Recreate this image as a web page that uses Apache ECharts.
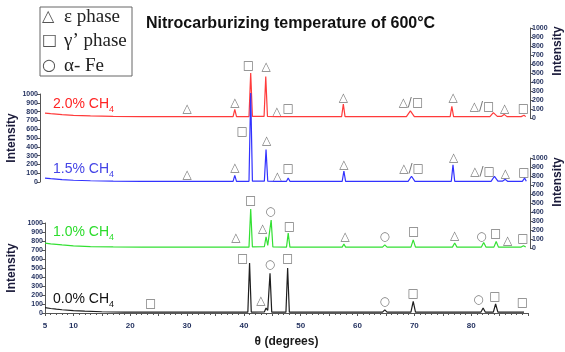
<!DOCTYPE html>
<html lang="en">
<head>
<meta charset="utf-8">
<title>Nitrocarburizing 600C</title>
<script src="https://cdn.jsdelivr.net/npm/echarts@6/dist/echarts.min.js"></script>
<style>
  html, body { margin: 0; padding: 0; background: #fff; }
  #chart { width: 565px; height: 352px; }
</style>
</head>
<body>
<div id="chart"></div>
<script>
// [theta, intensity] (each pattern has its own 0-1000 axis)
var ch20 = [[5,55],[6,48],[8,38],[10,30],[13,24],[17,19],[22,16],
  [29.7,15],[30,25],[30.3,15],[38.1,16],[38.4,95],[38.7,16],
  [40.9,16],[41.2,500],[41.5,17],[43.55,17],[43.85,460],[44.15,17],
  [45.7,15],[45.9,20],[46.1,15],[47.5,15],[47.8,35],[48.1,15],
  [57.2,15],[57.5,155],[57.8,15],[68.6,15],[69.3,80],[70.0,15],
  [76.3,15],[76.6,130],[76.9,15],[83.3,15],[83.9,60],[84.6,18],[85.3,17],[85.8,40],[86.3,15],
  [88.8,15],[89.3,30],[89.6,15]];
var ch15 = [[5,45],[6,38],[8,28],[10,20],[13,14],[17,10],[22,8],
  [29.7,8],[30,18],[30.3,8],[38.1,8],[38.4,75],[38.7,8],
  [40.9,8],[41.2,1010],[41.5,9],[43.6,9],[43.9,370],[44.2,9],
  [45.7,8],[45.9,14],[46.1,8],[47.5,8],[47.8,45],[48.1,8],
  [57.3,8],[57.6,125],[57.9,8],[68.9,8],[69.5,65],[70.1,8],
  [76.5,8],[76.8,195],[77.1,8],[83.5,8],[84.1,65],[84.7,10],[85.5,9],[86,30],[86.4,8],
  [89,8],[89.4,45],[89.7,8]];
var ch10 = [[5,55],[6,46],[8,34],[10,24],[13,16],[17,12],[22,10],
  [38.2,10],[38.5,25],[38.8,10],[40.9,10],[41.2,433],[41.5,12],
  [43.6,14],[43.9,125],[44.2,30],[44.5,20],[44.8,310],[45.1,12],
  [47.5,10],[47.8,165],[48.1,10],[57.3,10],[57.6,45],[57.9,10],
  [64.4,10],[64.8,35],[65.2,10],[69.4,10],[69.8,90],[70.2,10],
  [76.7,10],[77.1,55],[77.5,10],[81.8,10],[82.2,62],[82.6,10],
  [84.0,10],[84.4,73],[84.8,10],[86.0,10],[86.3,20],[86.6,10],
  [88.8,10],[89.2,25],[89.6,10]];
var ch00 = [[5,60],[6,50],[7,42],[8,36],[10,27],[12,20],[15,14],[19,10],
  [23.3,9],[23.6,20],[23.9,9],[40.7,9],[41.0,555],[41.3,10],
  [43.6,12],[43.9,55],[44.2,30],[44.35,25],[44.6,440],[44.9,10],
  [47.4,9],[47.7,500],[48.0,9],[57.3,9],[57.6,18],[57.9,9],
  [64.4,9],[64.8,35],[65.2,9],[69.4,9],[69.8,130],[70.2,9],
  [81.7,9],[82.1,55],[82.5,9],[83.9,9],[84.3,100],[84.7,9],
  [88.7,9],[89.0,20],[89.3,9]];

// phase marks: [theta, intensity, glyph]
var mk20 = [[30,100,'△'],[38.4,170,'△'],[40.8,580,'□'],[43.9,563,'△'],[45.8,70,'△'],[47.8,97,'□'],
  [57.5,225,'△'],[69.4,163,'△/□'],[76.8,219,'△'],[81.9,119,'△/□'],[85.9,100,'△'],[89.2,100,'□']];
var mk15 = [[30,80,'△'],[38.4,155,'△'],[39.7,572,'□'],[44,470,'△'],[45.9,60,'△'],[47.8,144,'□'],
  [57.6,193,'△'],[69.5,148,'△/□'],[76.9,270,'△'],[82,117,'△/□'],[86,90,'△'],[89.3,105,'□']];
var mk10 = [[38.6,108,'△'],[41.2,522,'□'],[43.3,208,'△'],[44.7,397,'○'],[48,230,'□'],[57.8,126,'△'],
  [64.8,119,'○'],[69.9,181,'□'],[77.1,133,'△'],[81.8,126,'○'],[84.3,155,'□'],[86.4,81,'△'],[89.1,100,'□']];
var mk00 = [[23.6,100,'□'],[39.8,600,'□'],[43,140,'△'],[44.6,533,'○'],[47.7,600,'□'],
  [64.8,126,'○'],[69.8,211,'□'],[81.3,144,'○'],[84.2,181,'□'],[89,115,'□']];

var names = ['2.0% CH', '1.5% CH', '1.0% CH', '0.0% CH'];
var xLabels = [5, 10, 20, 30, 40, 50, 60, 70, 80];

var patterns = [ch20, ch15, ch10, ch00];
var marks = [mk20, mk15, mk10, mk00];
var colors = ['#ff3b3b', '#3232ff', '#33e033', '#1e1e1e'];
var textColors = ['#ff2424', '#4444e6', '#2cdc2c', '#111'];

// one grid per pattern, same theta scale
var grids = [
  {left: 45, right: 37, top: 28, height: 90, outerBoundsMode: 'none'},
  {left: 45, right: 37, top: 94, height: 88, outerBoundsMode: 'none'},
  {left: 45, right: 37, top: 158, height: 90, outerBoundsMode: 'none'},
  {left: 45, right: 37, top: 223, height: 90, outerBoundsMode: 'none'}
];
var axisSide = [['right', 2], ['left', 5], ['right', 2], ['left', 0]];
var labelY = [105, 170, 233, 300];

function yAx(i) {
  var ax = {
    type: 'value', gridIndex: i, position: axisSide[i][0], offset: axisSide[i][1],
    min: 0, max: 1000, interval: 100,
    axisLine: {show: true, lineStyle: {color: '#555', width: 1}},
    axisTick: {show: true, length: 3, lineStyle: {color: '#555'}},
    axisLabel: {fontSize: 7, fontWeight: 'bold', color: '#1f2d5c', margin: 2,
      formatter: function (v) { return String(v); }},
    splitLine: {show: false}
  };
  if (axisSide[i][0] == 'left') {
    ax.name = 'Intensity';
    ax.nameLocation = 'middle';
    ax.nameRotate = 90;
    ax.nameMoveOverlap = false;
    ax.nameGap = i == 1 ? 22 : 27;
    ax.nameTextStyle = {fontSize: 12, fontWeight: 'bold', color: '#1a1a3a'};
  }
  return ax;
}

function xAx(i) {
  var ax = {type: 'value', gridIndex: i, min: 5, max: 90, show: false};
  if (i == 3) {
    ax = {
      type: 'value', gridIndex: 3, min: 5, max: 90, interval: 5,
      name: 'θ (degrees)', nameLocation: 'middle', nameGap: 23, nameMoveOverlap: false,
      nameTextStyle: {fontSize: 12, fontWeight: 'bold', color: '#1a1a1a'},
      axisLine: {lineStyle: {color: '#555'}},
      axisTick: {length: 3, lineStyle: {color: '#555'}},
      minorTick: {show: true, splitNumber: 5, length: 2, lineStyle: {color: '#555'}},
      axisLabel: {
        fontSize: 8, fontWeight: 'bold', color: '#1f2d5c', margin: 9,
        formatter: function (v) { return xLabels.indexOf(v) >= 0 ? String(v) : ''; }
      },
      splitLine: {show: false}
    };
  }
  return ax;
}

var series = [];
patterns.forEach(function (d, i) {
  series.push({
    type: 'line', xAxisIndex: i, yAxisIndex: i, data: d,
    symbol: 'none', clip: false, silent: true,
    lineStyle: {color: colors[i], width: 1.2}
  });
  series.push({
    type: 'scatter', xAxisIndex: i, yAxisIndex: i, data: marks[i],
    symbolSize: 1, itemStyle: {color: 'transparent'}, silent: true,
    label: {
      show: true, position: 'inside', fontFamily: 'DejaVu Sans', fontSize: 12, color: '#555',
      formatter: function (p) { return p.data[2]; }
    }
  });
});

var graphic = [
  {type: 'text', left: 146, top: 16, style: {text: 'Nitrocarburizing temperature of 600°C',
    font: 'bold 16px "Liberation Sans", Arial', fill: '#111'}},
  {type: 'rect', shape: {x: 40, y: 7, width: 92, height: 69},
    style: {fill: '#fff', stroke: '#666', lineWidth: 1}},
  {type: 'text', x: 42, y: 17, style: {text: '△', font: '16px "DejaVu Sans"', fill: '#555', verticalAlign: 'middle'}},
  {type: 'text', x: 64, y: 17, style: {text: 'ε phase', font: '19px "Liberation Serif"', fill: '#222', verticalAlign: 'middle'}},
  {type: 'text', x: 42, y: 41, style: {text: '□', font: '16px "DejaVu Sans"', fill: '#555', verticalAlign: 'middle'}},
  {type: 'text', x: 64, y: 41, style: {text: 'γ’ phase', font: '19px "Liberation Serif"', fill: '#222', verticalAlign: 'middle'}},
  {type: 'text', x: 42, y: 66, style: {text: '○', font: '16px "DejaVu Sans"', fill: '#555', verticalAlign: 'middle'}},
  {type: 'text', x: 64, y: 66, style: {text: 'α- Fe', font: '19px "Liberation Serif"', fill: '#222', verticalAlign: 'middle'}},
  {type: 'text', x: 558, y: 51, rotation: Math.PI / 2, style: {text: 'Intensity',
    font: 'bold 12px "Liberation Sans"', fill: '#1a1a3a', align: 'center', verticalAlign: 'middle'}},
  {type: 'text', x: 558, y: 182, rotation: Math.PI / 2, style: {text: 'Intensity',
    font: 'bold 12px "Liberation Sans"', fill: '#1a1a3a', align: 'center', verticalAlign: 'middle'}}
];
names.forEach(function (n, i) {
  graphic.push({
    type: 'text', x: 53, y: labelY[i] - 8,
    style: {
      text: '{m|' + n + '}{s|4}', fill: textColors[i],
      rich: {
        m: {fontSize: 14, lineHeight: 14, fontFamily: 'Liberation Sans', fill: textColors[i], verticalAlign: 'top'},
        s: {fontSize: 9, lineHeight: 9, fontFamily: 'Liberation Sans', fill: textColors[i], verticalAlign: 'top', padding: [8, 0, 0, 0]}
      }
    }
  });
});

var chart = echarts.init(document.getElementById('chart'));
chart.setOption({
  animation: false,
  backgroundColor: '#fff',
  textStyle: {fontFamily: 'Liberation Sans'},
  grid: grids,
  xAxis: [0, 1, 2, 3].map(xAx),
  yAxis: [0, 1, 2, 3].map(yAx),
  series: series,
  graphic: graphic
});
</script>
</body>
</html>
